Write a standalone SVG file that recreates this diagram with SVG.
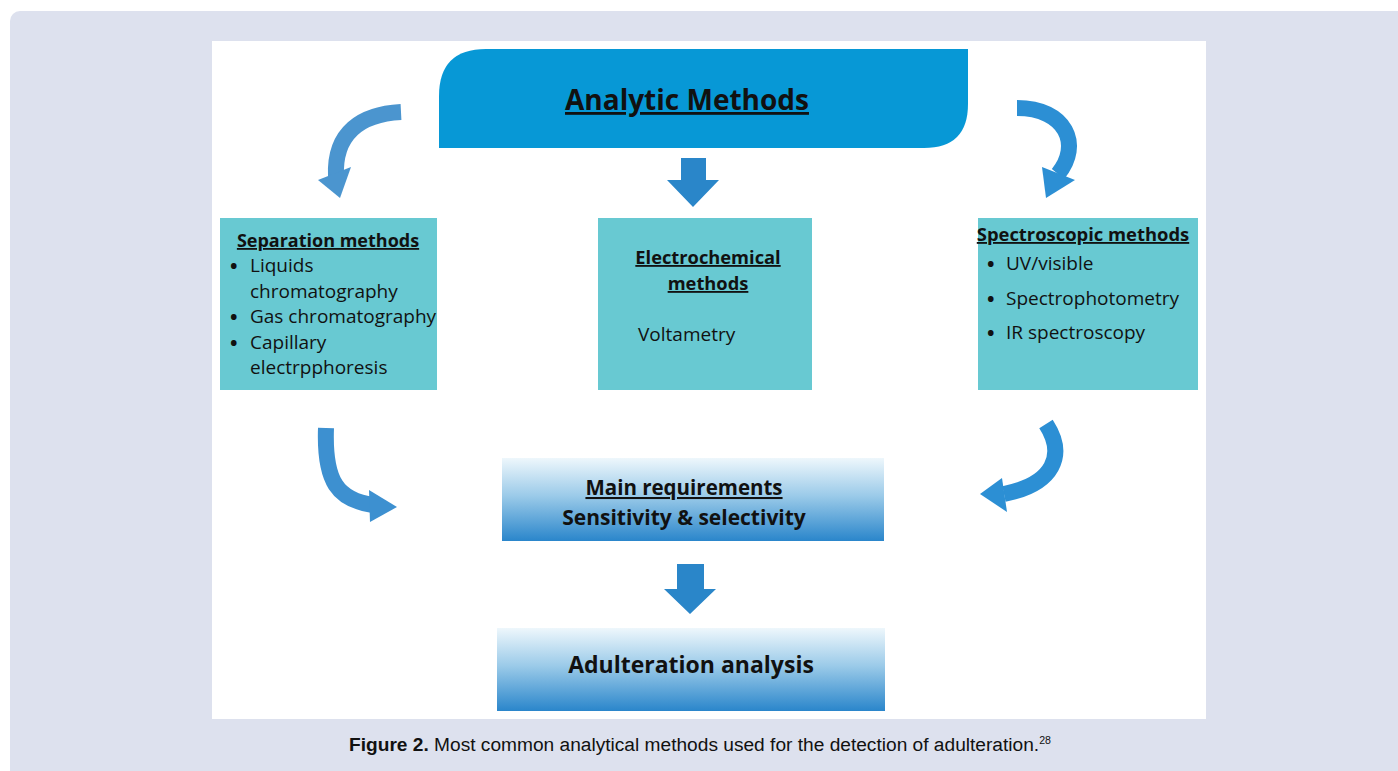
<svg xmlns="http://www.w3.org/2000/svg" width="1398" height="771" viewBox="0 0 1398 771">
  <defs>
    <linearGradient id="grad" x1="0" y1="0" x2="0" y2="1">
      <stop offset="0" stop-color="#eef7fc"/>
      <stop offset="0.45" stop-color="#9ccbe9"/>
      <stop offset="1" stop-color="#2a86cb"/>
    </linearGradient>
    <style>
      .t { font-family: "Open Sans", "Liberation Sans", sans-serif; fill: #111; }
      .b { font-weight: bold; }
      .u { text-decoration: underline; }
      .bul { font-weight: bold; font-size: 20px; }
      .teal { fill: #68c9d2; }
      .curve { fill: none; stroke-width: 16; }
      .dn { fill: #2a86c9; }
    </style>
  </defs>
  <rect width="1398" height="771" fill="#ffffff"/>
  <rect x="10" y="11" width="1400" height="780" rx="10" fill="#dde1ee"/>
  <rect x="212" y="41" width="994" height="678" fill="#ffffff"/>

  <g id="header">
    <path d="M439,148 L439,96 Q439,49 486,49 L968,49 L968,104 Q968,148 924,148 Z" fill="#0798d6"/>
    <text class="t b u" x="687" y="110" font-size="28" text-anchor="middle">Analytic Methods</text>
  </g>

  <g id="separation">
    <rect class="teal" x="220" y="218" width="217" height="172"/>
    <text class="t b u" x="328" y="247" font-size="18" text-anchor="middle">Separation methods</text>
    <g class="t" font-size="19">
      <text class="bul" x="230" y="273">•</text><text x="250" y="272">Liquids</text>
      <text x="250" y="298">chromatography</text>
      <text class="bul" x="230" y="324">•</text><text x="250" y="323">Gas chromatography</text>
      <text class="bul" x="230" y="350">•</text><text x="250" y="349">Capillary</text>
      <text x="250" y="374">electrpphoresis</text>
    </g>
  </g>

  <g id="electrochemical">
    <rect class="teal" x="598" y="218" width="214" height="172"/>
    <text class="t b u" x="708" y="264" font-size="18.3" text-anchor="middle">Electrochemical</text>
    <text class="t b u" x="708" y="290" font-size="18.3" text-anchor="middle">methods</text>
    <text class="t" x="638" y="341" font-size="19">Voltametry</text>
  </g>

  <g id="spectroscopic">
    <rect class="teal" x="978" y="218" width="220" height="172"/>
    <text class="t b u" x="1083" y="241" font-size="18.4" text-anchor="middle">Spectroscopic methods</text>
    <g class="t" font-size="19">
      <text class="bul" x="987" y="271">•</text><text x="1006" y="270">UV/visible</text>
      <text class="bul" x="987" y="306">•</text><text x="1006" y="305">Spectrophotometry</text>
      <text class="bul" x="987" y="340">•</text><text x="1006" y="339">IR spectroscopy</text>
    </g>
  </g>

  <g id="requirements">
    <rect x="502" y="458" width="382" height="83" fill="url(#grad)"/>
    <text class="t b u" x="684" y="495" font-size="20.5" text-anchor="middle">Main requirements</text>
    <text class="t b" x="684" y="525" font-size="21" text-anchor="middle">Sensitivity &amp; selectivity</text>
  </g>

  <g id="adulteration">
    <rect x="497" y="628" width="388" height="83" fill="url(#grad)"/>
    <text class="t b" x="691" y="673" font-size="23" text-anchor="middle">Adulteration analysis</text>
  </g>

  <g id="connectors">
    <path class="curve" stroke="#4b95cf" d="M401,112 C362,114 334,132 336,176"/>
    <polygon fill="#4b95cf" points="318,180 351,167 340,198"/>
    <path class="curve" stroke="#2c8fd4" d="M1017,108 C1066,108 1082,145 1058,174"/>
    <polygon fill="#2c8fd4" points="1042,167 1075,180 1046,198"/>
    <polygon class="dn" points="681,158 706,158 706,180 719,180 693,207 667,180 681,180"/>
    <path class="curve" stroke="#3d90d0" d="M326,428 C324,482 338,500 373,505"/>
    <polygon fill="#3d90d0" points="369,490 397,507 370,522"/>
    <path class="curve" stroke="#2c8fd4" d="M1046,424 C1066,455 1054,484 1004,494"/>
    <polygon fill="#2c8fd4" points="1002,478 1007,512 980,494"/>
    <polygon class="dn" points="677,564 704,564 704,589 716,589 690,614 664,589 677,589"/>
  </g>

  <text x="700" y="751" font-family="'Liberation Sans Narrow', 'Liberation Sans', sans-serif" font-size="18" fill="#111" text-anchor="middle" textLength="702" lengthAdjust="spacingAndGlyphs"><tspan font-weight="bold">Figure 2.</tspan> Most common analytical methods used for the detection of adulteration.<tspan font-size="10" dy="-7">28</tspan></text>
</svg>
